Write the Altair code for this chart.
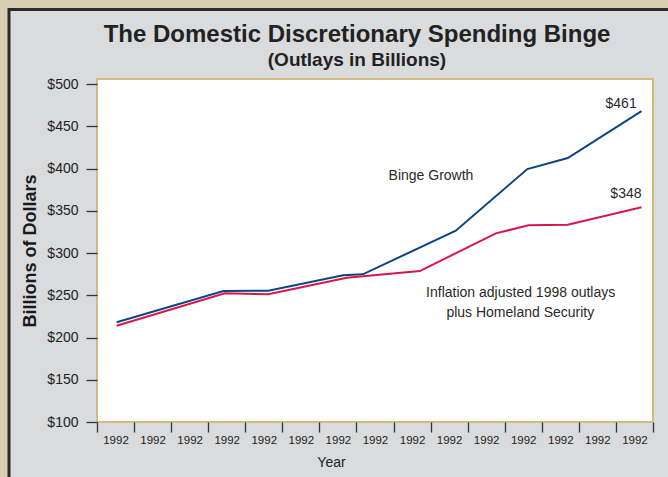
import json
import altair as alt
import pandas as pd

# ---- data ----
x_tick_labels = ["1992"] * 15          # one label per band
x_tick_positions = list(range(16))     # band edges
y_tick_values = [100, 150, 200, 250, 300, 350, 400, 450, 500]

binge_x = [0.53, 3.41, 4.62, 6.64, 7.17, 9.68, 11.61, 12.70, 14.69]
binge_y = [218.0, 255.0, 255.4, 273.6, 274.8, 326.4, 399.4, 412.4, 468.0]

infl_x = [0.53, 3.45, 4.62, 6.74, 8.71, 10.76, 11.64, 12.70, 14.69]
infl_y = [214.0, 252.3, 251.1, 270.8, 278.7, 323.3, 332.8, 333.5, 354.1]

series_names = ["Binge Growth", "Inflation adjusted"]
series_colors = ["#0c4586", "#d81648"]

note_text = ["$461", "$348", "Binge Growth",
             "Inflation adjusted 1998 outlays", "plus Homeland Security"]
note_x = [14.14, 14.27, 9.01, 11.43, 11.42]
note_y = [476.9, 369.7, 391.0, 252.9, 229.6]

x_domain = [0, 15]
y_domain = [100, 506]

# ---- tables ----
lines_df = pd.DataFrame({
    "x": binge_x + infl_x,
    "y": binge_y + infl_y,
    "series": [series_names[0]] * len(binge_x) + [series_names[1]] * len(infl_x),
})
notes_df = pd.DataFrame({"x": note_x, "y": note_y, "text": note_text})
frame_df = pd.DataFrame({"x0": [x_domain[0]], "x1": [x_domain[1]],
                         "y0": [y_domain[0]], "y1": [y_domain[1]]})

FONT = "Liberation Sans"
label_expr = f"datum.value < 15 ? {json.dumps(x_tick_labels)}[datum.value] : ''"

x_axis = alt.Axis(
    values=x_tick_positions, labelExpr=label_expr, labelOffset=18.5,
    labelFlush=False, labelOverlap=False, labelFontSize=11.5, labelColor="#222",
    labelPadding=2, tickSize=10, tickColor="#333", tickWidth=1.3,
    domain=False, grid=False, title="Year", titleFontSize=14,
    titleFontWeight="normal", titleColor="#222", titleX=234, titlePadding=10,
    zindex=1,
)
y_axis = alt.Axis(
    values=y_tick_values, labelExpr="'$' + datum.value", labelFontSize=14,
    labelColor="#222", labelPadding=8, tickSize=11, tickColor="#333",
    tickWidth=1.3, domain=False, grid=False, title="Billions of Dollars",
    titleFontSize=18, titleFontWeight="bold", titleColor="#1a1a1a",
    titlePadding=7, zindex=1,
)
x_scale = alt.Scale(domain=x_domain, nice=False, zero=False)
y_scale = alt.Scale(domain=y_domain, nice=False, zero=False)

panel = alt.Chart(frame_df).mark_rect(
    fill="#dadbdd", stroke="#2b2b2b", strokeWidth=3
).encode(
    x=alt.value(-88), x2=alt.value(720), y=alt.value(-69.5), y2=alt.value(520)
)

plot_bg = alt.Chart(frame_df).mark_rect(
    fill="white", stroke="#d3bb80", strokeWidth=2
).encode(
    x=alt.X("x0:Q", scale=x_scale, axis=x_axis),
    x2="x1",
    y=alt.Y("y0:Q", scale=y_scale, axis=y_axis),
    y2="y1",
)

lines = alt.Chart(lines_df).mark_line(strokeWidth=2).encode(
    x=alt.X("x:Q", scale=x_scale, axis=x_axis),
    y=alt.Y("y:Q", scale=y_scale, axis=y_axis),
    color=alt.Color("series:N", scale=alt.Scale(domain=series_names, range=series_colors),
                    legend=None),
    order=alt.Order("x:Q"),
)

notes = alt.Chart(notes_df).mark_text(
    fontSize=14, color="#2a2a2a", align="center", baseline="middle", font=FONT
).encode(
    x=alt.X("x:Q", scale=x_scale, axis=x_axis),
    y=alt.Y("y:Q", scale=y_scale, axis=y_axis),
    text="text:N",
)

chart = alt.layer(panel, plot_bg, lines, notes).properties(
    width=556, height=343,
    padding={"left": 97, "top": 79, "right": 15, "bottom": 55},
    autosize=alt.AutoSizeParams(type="none"),
    background="#d8cfb3",
    title=alt.TitleParams(
        text="The Domestic Discretionary Spending Binge",
        subtitle="(Outlays in Billions)",
        fontSize=24, fontWeight="bold", color="#222",
        subtitleFontSize=19, subtitleFontWeight="bold", subtitleColor="#222",
        subtitlePadding=4, anchor="middle", frame="group", dx=-18, dy=62,
        offset=0, zindex=1, font=FONT, subtitleFont=FONT,
    ),
).configure(font=FONT).configure_view(strokeWidth=0)

chart.save("out.html", embed_options={"renderer": "svg", "actions": False})
